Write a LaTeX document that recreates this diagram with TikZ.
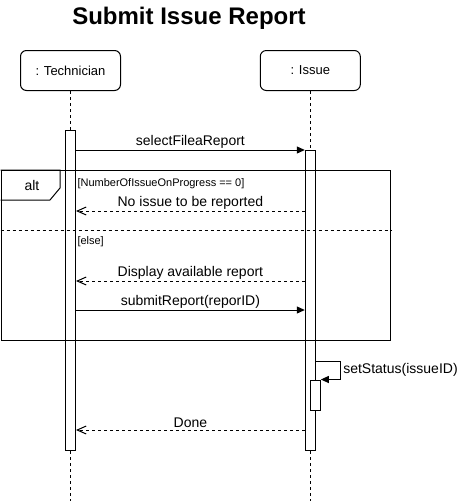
\documentclass[tikz,border=0pt]{standalone}
\usepackage{fontspec}
\setmainfont{Liberation Sans}
\usetikzlibrary{arrows.meta}
\definecolor{ink}{HTML}{000000}
\definecolor{paper}{HTML}{FFFFFF}

\begin{document}
\begin{tikzpicture}[x=1pt, y=-1pt, line width=1pt, color=ink,
    font=\fontsize{14}{16}\selectfont,
    lane/.style={draw, rounded corners=6pt, minimum width=100pt, minimum height=40pt,
                 font=\fontsize{13}{15}\selectfont},
    bar/.style={draw, fill=paper, minimum width=10pt, inner sep=0pt},
    life/.style={dash pattern=on 3pt off 3pt},
    call/.style={-{Triangle[length=8pt,width=7pt]}},
    reply/.style={dash pattern=on 3pt off 3pt, -{Straight Barb[length=9pt,width=8pt]}},
    guard/.style={anchor=west, inner sep=0pt, font=\fontsize{11}{13}\selectfont},
    msg/.style={above, inner sep=1.5pt}]
  \useasboundingbox (0,0) rectangle (459,501);
  \node[font=\fontsize{24}{28}\selectfont\bfseries] (title) at (189,18) {Submit Issue Report};
  \node[lane] (tech) at (70.5,70.5) {: Technician};
  \node[lane] (issue) at (310.3,70.5) {: Issue};
  \coordinate (techEnd) at (70.5,501);
  \coordinate (issueEnd) at (310.3,501);
  \draw[life] (tech) -- (techEnd);
  \draw[life] (issue) -- (issueEnd);
  \node[bar, minimum height=320pt] (actT) at (70.5,290) {};
  \node[bar, minimum height=300pt] (actI) at (310.3,300) {};
  \node[bar, minimum height=30pt] (actS) at (315.3,395) {};
  \node[draw, anchor=north west, inner sep=0pt, minimum width=389.5pt,
        minimum height=170pt] (alt) at (0.5,170) {};
  \draw (alt.north west) -- ++(59.5,0) -- ++(0,18) -- ++(-10,12) -- ++(-49.5,0);
  \node (altLabel) at (32,185) {alt};
  \coordinate (sep) at (0.5,230);
  \draw[life] (sep) -- (sep -| alt.east);
  \node[guard] (guardA) at (77,184) {[NumberOfIssueOnProgress == 0]};
  \node[guard] (guardB) at (77,242) {[else]};
  \coordinate (m1) at (0,150);
  \coordinate (m2) at (0,211);
  \coordinate (m3) at (0,281);
  \coordinate (m4) at (0,310);
  \coordinate (s1) at (0,361);
  \coordinate (m5) at (0,430);
  \draw[call] (actT.east |- m1) -- node[msg] {selectFileaReport} (actI.west |- m1);
  \draw[reply] (actI.west |- m2) -- node[msg] {No issue to be reported} (actT.east |- m2);
  \draw[reply] (actI.west |- m3) -- node[msg] {Display available report} (actT.east |- m3);
  \draw[call] (actT.east |- m4) -- node[msg] {submitReport(reporID)} (actI.west |- m4);
  \draw[call] (actI.east |- s1) -- ++(25,0) |- node[pos=0.25, right, inner sep=2pt] {setStatus(issueID)} (actS.north east);
  \draw[reply] (actI.west |- m5) -- node[msg] {Done} (actT.east |- m5);
\end{tikzpicture}
\end{document}
